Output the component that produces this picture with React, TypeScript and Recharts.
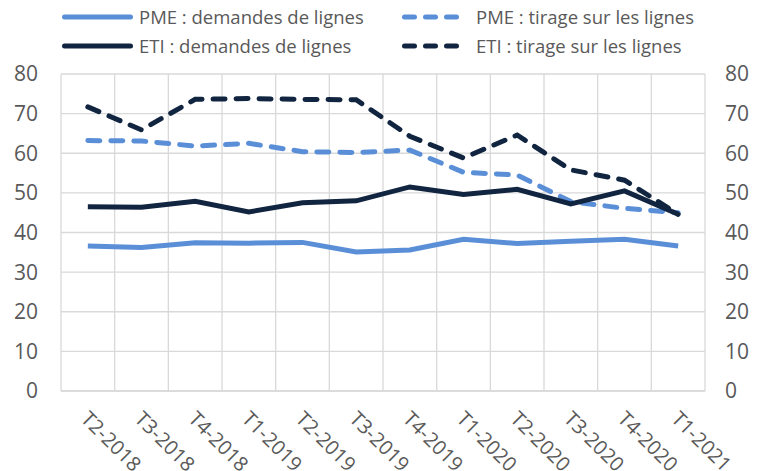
import { LineChart, Line, XAxis, YAxis, CartesianGrid, Legend } from 'recharts'

const categories = ['T2-2018', 'T3-2018', 'T4-2018', 'T1-2019', 'T2-2019', 'T3-2019', 'T4-2019', 'T1-2020', 'T2-2020', 'T3-2020', 'T4-2020', 'T1-2021']
const pmeDemandes = [36.6, 36.2, 37.4, 37.3, 37.5, 35.1, 35.6, 38.3, 37.2, 37.8, 38.3, 36.6]
const pmeTirage = [63.2, 63.1, 61.8, 62.5, 60.4, 60.2, 60.8, 55.2, 54.5, 47.8, 46.1, 45.0]
const etiDemandes = [46.5, 46.4, 47.9, 45.2, 47.5, 48.0, 51.5, 49.6, 50.9, 47.2, 50.5, 44.6]
const etiTirage = [71.7, 65.9, 73.6, 73.8, 73.6, 73.5, 64.3, 58.8, 64.6, 55.8, 53.2, 44.6]
const seriesNames = ['PME : demandes de lignes', 'PME : tirage sur les lignes', 'ETI : demandes de lignes', 'ETI : tirage sur les lignes']
const yTicks = [0, 10, 20, 30, 40, 50, 60, 70, 80]
const gridTicks = [0, 1, 2, 3, 4, 5, 6, 7, 8, 9, 10, 11, 12]

const chartData = categories.map((cat, i) => ({
  cat,
  pmeDemandes: pmeDemandes[i],
  pmeTirage: pmeTirage[i],
  etiDemandes: etiDemandes[i],
  etiTirage: etiTirage[i],
}))

const LIGHT = '#5A8FD8'
const DARK = '#112540'
const TEXT = '#595959'
const FONT = '"Open Sans", sans-serif'
const DASH = '12 11'

function XTick({ x, y, payload }: any) {
  const ax = x - 8
  const ay = y + 21
  return (
    <text x={ax} y={ay} transform={`rotate(45, ${ax}, ${ay})`} textAnchor="start" fill={TEXT} fontSize={20} fontFamily={FONT}>
      {payload.value}
    </text>
  )
}

function LegendContent({ payload }: any) {
  const items = [...(payload ?? [])].sort((a: any, b: any) => seriesNames.indexOf(a.value) - seriesNames.indexOf(b.value))
  return (
    <div style={{ position: 'relative', width: 763, height: 74, fontFamily: FONT }}>
      {items.map((entry: any, i: number) => {
        const col = i % 2
        const row = Math.floor(i / 2)
        const left = col === 0 ? 62 : 402
        const top = row === 0 ? 17 : 46
        const dashed = !!entry.payload?.strokeDasharray
        const w = col === 0 ? 71 : 64
        return (
          <div key={i} style={{ position: 'absolute', left, top: top - 13, height: 26, display: 'flex', alignItems: 'center' }}>
            <svg width={w} height={10} style={{ display: 'block' }}>
              <line
                x1={2.5}
                y1={5}
                x2={w - 2.5}
                y2={5}
                stroke={entry.color}
                strokeWidth={5}
                strokeLinecap="round"
                strokeDasharray={dashed ? '10 11' : undefined}
              />
            </svg>
            <span style={{ marginLeft: col === 0 ? 6 : 10, fontSize: 18.5, color: TEXT, whiteSpace: 'nowrap', lineHeight: '26px' }}>
              {entry.value}
            </span>
          </div>
        )
      })}
    </div>
  )
}

export default function App() {
  return (
    <div style={{ position: 'absolute', left: 0, top: 0, width: 763, height: 471, background: '#fff' }}>
      <LineChart width={763} height={471} data={chartData} margin={{ top: 0, right: 0, bottom: 0, left: 0 }}>
        <XAxis xAxisId="grid" type="number" dataKey="cat" domain={[0, 12]} ticks={gridTicks} hide allowDataOverflow />
        <CartesianGrid xAxisId="grid" stroke="#D9D9D9" strokeWidth={1.3} />
        <XAxis
          dataKey="cat"
          scale="band"
          interval={0}
          height={80}
          tickLine={false}
          axisLine={{ stroke: '#D9D9D9', strokeWidth: 1.3 }}
          tick={<XTick />}
        />
        <YAxis
          domain={[0, 80]}
          ticks={yTicks}
          width={61}
          tickLine={false}
          axisLine={false}
          tickSize={0}
          tickMargin={23}
          tick={{ fill: TEXT, fontSize: 21, fontFamily: FONT }}
        />
        <YAxis
          yAxisId="right"
          orientation="right"
          domain={[0, 80]}
          ticks={yTicks}
          width={58}
          tickLine={false}
          axisLine={false}
          tickSize={0}
          tickMargin={20}
          tick={{ fill: TEXT, fontSize: 21, fontFamily: FONT }}
        />
        <Legend verticalAlign="top" align="left" content={<LegendContent />} wrapperStyle={{ top: 0, left: 0 }} />
        <Line dataKey="pmeDemandes" name={seriesNames[0]} stroke={LIGHT} strokeWidth={5} dot={false} isAnimationActive={false} />
        <Line dataKey="pmeTirage" name={seriesNames[1]} stroke={LIGHT} strokeWidth={5} strokeDasharray={DASH} strokeLinecap="round" dot={false} isAnimationActive={false} />
        <Line dataKey="etiDemandes" name={seriesNames[2]} stroke={DARK} strokeWidth={5} dot={false} isAnimationActive={false} />
        <Line yAxisId="right" dataKey="etiTirage" name={seriesNames[3]} stroke={DARK} strokeWidth={5} strokeDasharray={DASH} strokeLinecap="round" dot={false} isAnimationActive={false} />
      </LineChart>
    </div>
  )
}
